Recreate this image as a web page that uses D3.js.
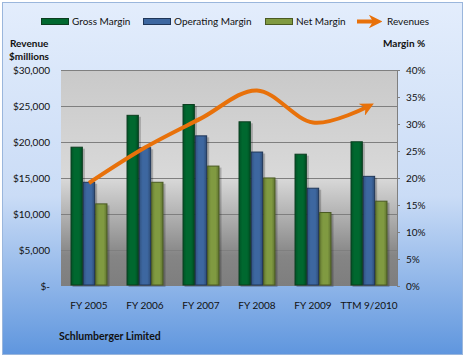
<!DOCTYPE html>
<html><head><meta charset="utf-8">
<script src="https://cdn.jsdelivr.net/npm/d3@7/dist/d3.min.js"></script>
<style>body{margin:0;background:#fff}svg{display:block}text{font-family:Lato,"Open Sans",sans-serif;fill:#111}</style>
</head><body><svg id="c" width="466" height="358"></svg>
<script>
const categories = ["FY 2005","FY 2006","FY 2007","FY 2008","FY 2009","TTM 9/2010"];
const grossMargin = [25.8,31.7,33.7,30.5,24.5,26.8];
const operatingMargin = [19.3,25.7,27.9,24.9,18.2,20.4];
const netMargin = [15.3,19.3,22.3,20.1,13.7,15.8];
const revenues = [14309,19230,23277,27163,22702,25000];
const revTicks = [0,5000,10000,15000,20000,25000,30000];
const pctTicks = [0,5,10,15,20,25,30,35,40];
const seriesNames = ["Gross Margin","Operating Margin","Net Margin"];
const seriesColors = ["#00682f","#3d67a0","#809a41"];
const seriesEdges = ["#0b3d1f","#1f3658","#4a5a22"];

const svg = d3.select("#c");
const defs = svg.append("defs");
const bg = defs.append("linearGradient").attr("id","bg").attr("x1",0).attr("y1",0).attr("x2",0).attr("y2",1);
bg.append("stop").attr("offset","0").attr("stop-color","#e3edfc");
bg.append("stop").attr("offset","0.55").attr("stop-color","#cadcf6");
bg.append("stop").attr("offset","1").attr("stop-color","#5f96de");
const pg = defs.append("linearGradient").attr("id","pg").attr("x1",0).attr("y1",0).attr("x2",0).attr("y2",1);
pg.append("stop").attr("offset","0").attr("stop-color","#c9c9c9");
pg.append("stop").attr("offset","0.5").attr("stop-color","#d9d9d9");
pg.append("stop").attr("offset","0.72").attr("stop-color","#a6a6a6");
pg.append("stop").attr("offset","0.86").attr("stop-color","#858585");
pg.append("stop").attr("offset","1").attr("stop-color","#7e7e7e");
seriesColors.forEach((c,i)=>{
  const g = defs.append("linearGradient").attr("id","bar"+i).attr("x1",0).attr("y1",0).attr("x2",1).attr("y2",0);
  g.append("stop").attr("offset","0").attr("stop-color",d3.color(c).darker(0.6));
  g.append("stop").attr("offset","0.3").attr("stop-color",c);
  g.append("stop").attr("offset","0.7").attr("stop-color",c);
  g.append("stop").attr("offset","1").attr("stop-color",d3.color(c).darker(0.8));
});
defs.append("marker").attr("id","arr").attr("viewBox","0 0 10 10").attr("refX",6).attr("refY",5)
  .attr("markerWidth",3.4).attr("markerHeight",3.4).attr("orient","auto").attr("markerUnits","strokeWidth")
  .append("path").attr("d","M0,0 L10,5 L0,10 L3,5 Z").attr("fill","#e8710a");

svg.append("rect").attr("x",2.5).attr("y",2.5).attr("width",460).attr("height",352)
  .attr("fill","url(#bg)").attr("stroke","#9ab6dc");

const m = {l:61, r:397, t:70, b:286};
const x0 = d3.scaleBand().domain(categories).range([m.l,m.r]).paddingInner(0.34).paddingOuter(0.17);
const x1 = d3.scaleBand().domain(seriesNames).range([0,x0.bandwidth()]);
const yP = d3.scaleLinear().domain([0,40]).range([m.b,m.t]);
const yR = d3.scaleLinear().domain([0,30000]).range([m.b,m.t]);

svg.append("rect").attr("x",m.l).attr("y",m.t).attr("width",m.r-m.l).attr("height",m.b-m.t).attr("fill","url(#pg)");
svg.append("g").selectAll("line").data(revTicks.slice(1)).join("line")
  .attr("x1",m.l).attr("x2",m.r).attr("y1",d=>Math.round(yR(d))+0.5).attr("y2",d=>Math.round(yR(d))+0.5)
  .attr("stroke","#7f7f7f").attr("stroke-width",1);

const data = [grossMargin,operatingMargin,netMargin];
const groups = svg.append("g").selectAll("g").data(categories).join("g")
  .attr("transform",d=>`translate(${x0(d)},0)`);
// shadows
groups.selectAll("rect.sh").data((d,i)=>data.map((s,k)=>({k,v:s[i]}))).join("rect").attr("class","sh")
  .attr("x",d=>x1(seriesNames[d.k])+2).attr("y",d=>yP(d.v)+2)
  .attr("width",x1.bandwidth()).attr("height",d=>m.b-yP(d.v)-1)
  .attr("fill","#000").attr("opacity",0.22);
groups.selectAll("rect.b").data((d,i)=>data.map((s,k)=>({k,v:s[i]}))).join("rect").attr("class","b")
  .attr("x",d=>x1(seriesNames[d.k])+0.5).attr("y",d=>yP(d.v)+0.5)
  .attr("width",x1.bandwidth()-1).attr("height",d=>m.b-yP(d.v)-1.5)
  .attr("fill",d=>`url(#bar${d.k})`).attr("stroke",d=>seriesEdges[d.k]).attr("stroke-width",1);

// revenue line
const line = d3.line().x((d,i)=>x0(categories[i])+x0.bandwidth()/2).y(d=>yR(d)).curve(d3.curveCatmullRom.alpha(0));
svg.append("path").datum(revenues).attr("d",line).attr("fill","none").attr("stroke","#e8710a")
  .attr("stroke-width",4).attr("stroke-linecap","butt").attr("marker-end","url(#arr)");

// left axis labels
const fmt = d=> d===0 ? "$-" : "$" + d3.format(",")(d);
svg.append("g").selectAll("text").data(revTicks).join("text")
  .attr("x",50).attr("y",d=>yR(d)+3.5).attr("text-anchor","end").attr("font-size",10).text(fmt);
// right axis
const ra = svg.append("g").attr("transform",`translate(${m.r},0)`)
  .call(d3.axisRight(yP).tickValues(pctTicks).tickSize(3).tickPadding(6).tickFormat(d=>d+"%"));
ra.select(".domain").attr("stroke","#7f7f7f");
ra.selectAll(".tick line").attr("stroke","#7f7f7f");
ra.selectAll("text").attr("font-size",10).attr("font-family","Lato").attr("fill","#111");

// category labels
svg.append("g").selectAll("text").data(categories).join("text")
  .attr("x",d=>x0(d)+x0.bandwidth()/2).attr("y",309).attr("text-anchor","middle").attr("font-size",10).text(d=>d);

svg.append("text").attr("x",10).attr("y",47).attr("font-size",10).attr("font-weight","bold").text("Revenue");
svg.append("text").attr("x",9).attr("y",60).attr("font-size",10).attr("font-weight","bold").text("$millions");
svg.append("text").attr("x",383).attr("y",47).attr("font-size",10).attr("font-weight","bold").text("Margin %");
svg.append("text").attr("x",59).attr("y",340).attr("font-size",10.5).attr("font-weight","bold").text("Schlumberger Limited");

// legend
const leg = [{n:"Gross Margin",x:41},{n:"Operating Margin",x:143},{n:"Net Margin",x:265}];
leg.forEach((l,i)=>{
  svg.append("rect").attr("x",l.x+0.5).attr("y",18.5).attr("width",27).attr("height",6)
    .attr("fill",seriesColors[i]).attr("stroke",seriesEdges[i]);
  svg.append("text").attr("x",l.x+31).attr("y",25).attr("font-size",10).text(l.n);
});
svg.append("line").attr("x1",357).attr("x2",377).attr("y1",21.5).attr("y2",21.5)
  .attr("stroke","#e8710a").attr("stroke-width",4).attr("marker-end","url(#arr)");
svg.append("text").attr("x",387).attr("y",25).attr("font-size",10).text("Revenues");
</script></body></html>
